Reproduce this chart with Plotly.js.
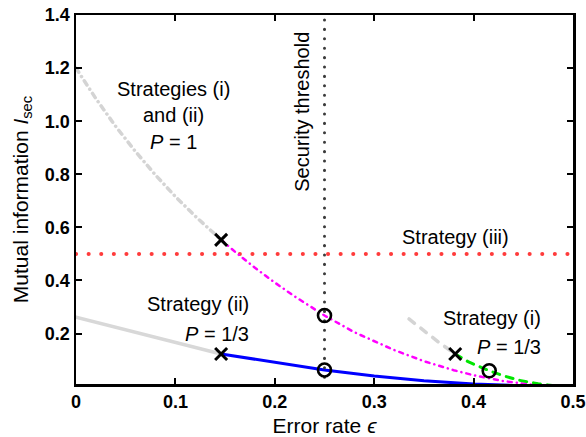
<!DOCTYPE html>
<html>
<head>
<meta charset="utf-8">
<script src="https://cdn.plot.ly/plotly-3.0.1.min.js"></script>
<style>
html,body{margin:0;padding:0;background:#fff;}
#chart{width:586px;height:437px;}
.scatterlayer .js-line{stroke-linecap:round;}
</style>
</head>
<body>
<div id="chart"></div>
<script>
// Strategies (i) and (ii), P = 1 : grey part (before crossing) and magenta part
const epsP1Grey = [0, 0.02, 0.04, 0.06, 0.08, 0.10, 0.12, 0.146];
const isecP1Grey = [1.20, 1.085, 0.98, 0.885, 0.797, 0.716, 0.642, 0.553];
const epsP1 = [0.146, 0.16, 0.18, 0.20, 0.22, 0.25, 0.28, 0.30, 0.32, 0.35, 0.38, 0.40, 0.43, 0.46, 0.50];
const isecP1 = [0.553, 0.508, 0.448, 0.392, 0.34, 0.268, 0.205, 0.17, 0.138, 0.096, 0.062, 0.043, 0.021, 0.007, 0.0];

// Strategy (ii), P = 1/3
const epsS2Grey = [0, 0.04, 0.08, 0.12, 0.146];
const isecS2Grey = [0.262, 0.224, 0.184, 0.148, 0.123];
const epsS2 = [0.146, 0.20, 0.25, 0.30, 0.35, 0.40, 0.45, 0.50];
const isecS2 = [0.123, 0.091, 0.063, 0.04, 0.022, 0.01, 0.003, 0.0];

// Strategy (i), P = 1/3
const epsS1Grey = [0.335, 0.35, 0.365, 0.3815];
const isecS1Grey = [0.255, 0.21, 0.167, 0.123];
const epsS1 = [0.3815, 0.395, 0.4157, 0.43, 0.446, 0.465, 0.48, 0.50];
const isecS1 = [0.123, 0.093, 0.06, 0.041, 0.024, 0.011, 0.004, 0.0];

// Strategy (iii) level and security threshold
const strategy3Eps = [0, 0.5];
const strategy3Isec = [0.5, 0.5];
const thresholdEps = [0.25, 0.25];
const thresholdIsec = [0, 1.4];

// Markers
const crossEps = [0.146, 0.146, 0.3815];
const crossIsec = [0.553, 0.123, 0.123];
const circleEps = [0.25, 0.25, 0.4157];
const circleIsec = [0.268, 0.063, 0.06];

const xTicks = [0, 0.1, 0.2, 0.3, 0.4, 0.5];
const xTickText = ['0', '0.1', '0.2', '0.3', '0.4', '0.5'];
const yTicks = [0.2, 0.4, 0.6, 0.8, 1.0, 1.2, 1.4];
const yTickText = ['0.2', '0.4', '0.6', '0.8', '1.0', '1.2', '1.4'];

const FONT = 'Liberation Sans, Arial, Helvetica, sans-serif';

const traces = [
  {x: epsS2Grey, y: isecS2Grey, mode: 'lines', line: {color: '#d8d8d8', width: 3.5}},
  {x: epsP1Grey, y: isecP1Grey, mode: 'lines', line: {color: '#d4d4d4', width: 3.5, dash: '5px,5px,0.1px,5px'}},
  {x: epsS1Grey, y: isecS1Grey, mode: 'lines', line: {color: '#d4d4d4', width: 3.5, dash: '7px,8px'}},
  {x: strategy3Eps, y: strategy3Isec, mode: 'lines', line: {color: '#ff3b3b', width: 4, dash: '0.1px,12.5px'}},
  {x: epsS2, y: isecS2, mode: 'lines', line: {color: '#0000ff', width: 3}},
  {x: epsP1, y: isecP1, mode: 'lines', line: {color: '#ff00ff', width: 2.5, dash: '4px,5px,0.1px,5px'}},
  {x: epsS1, y: isecS1, mode: 'lines', line: {color: '#00e600', width: 3, dash: '7px,7px'}},
  {x: thresholdEps, y: thresholdIsec, mode: 'lines', line: {color: '#3a3a3a', width: 3, dash: '0.1px,9.3px'}},
  {x: crossEps, y: crossIsec, mode: 'markers', marker: {symbol: 'x-thin', size: 12, color: '#000', line: {color: '#000', width: 3}}},
  {x: circleEps, y: circleIsec, mode: 'markers', marker: {symbol: 'circle-open', size: 13, color: '#000', line: {color: '#000', width: 2.6}}}
];

function ann(text, x, y, xanchor) {
  return {text: text, x: x, y: y, xref: 'x', yref: 'y', xanchor: xanchor || 'center', yanchor: 'middle',
          showarrow: false, font: {family: FONT, size: 20, color: '#000'}};
}

const annotations = [
  ann('Strategies (i)', 0.0976, 1.121),
  ann('and (ii)', 0.0976, 1.023),
  ann('<i>P</i> = 1', 0.0976, 0.921),
  ann('Strategy (iii)', 0.382, 0.562),
  ann('Strategy (ii)', 0.176, 0.313, 'right'),
  ann('<i>P</i> = 1/3', 0.176, 0.200, 'right'),
  ann('Strategy (i)', 0.470, 0.257, 'right'),
  ann('<i>P</i> = 1/3', 0.470, 0.148, 'right'),
  Object.assign(ann('Security threshold', 0.228, 1.034), {textangle: -90})
];

const layout = {
  width: 586, height: 437,
  margin: {l: 76, r: 13, t: 15, b: 53, pad: 0},
  paper_bgcolor: '#fff', plot_bgcolor: '#fff',
  showlegend: false,
  font: {family: FONT, color: '#000'},
  xaxis: {
    range: [0, 0.5], tickvals: xTicks, ticktext: xTickText,
    ticks: 'inside', ticklen: 6, tickwidth: 2, tickcolor: '#000',
    showline: true, linecolor: '#000', linewidth: 2.5, mirror: 'allticks',
    showgrid: false, zeroline: false,
    tickfont: {family: FONT, size: 18, weight: 'bold', color: '#000'},
    title: {text: 'Error rate <i>ϵ</i>', font: {family: FONT, size: 21, color: '#000'}, standoff: 8}
  },
  yaxis: {
    range: [0.01, 1.4], tickvals: yTicks, ticktext: yTickText,
    ticks: 'inside', ticklen: 6, tickwidth: 2, tickcolor: '#000',
    showline: true, linecolor: '#000', linewidth: 2.5, mirror: 'allticks',
    showgrid: false, zeroline: false,
    tickfont: {family: FONT, size: 18, weight: 'bold', color: '#000'},
    title: {text: 'Mutual information <i>I</i><sub>sec</sub>', font: {family: FONT, size: 21, color: '#000'}, standoff: 11}
  },
  annotations: annotations
};

Plotly.newPlot('chart', traces, layout, {displayModeBar: false, staticPlot: true});
</script>
</body>
</html>
